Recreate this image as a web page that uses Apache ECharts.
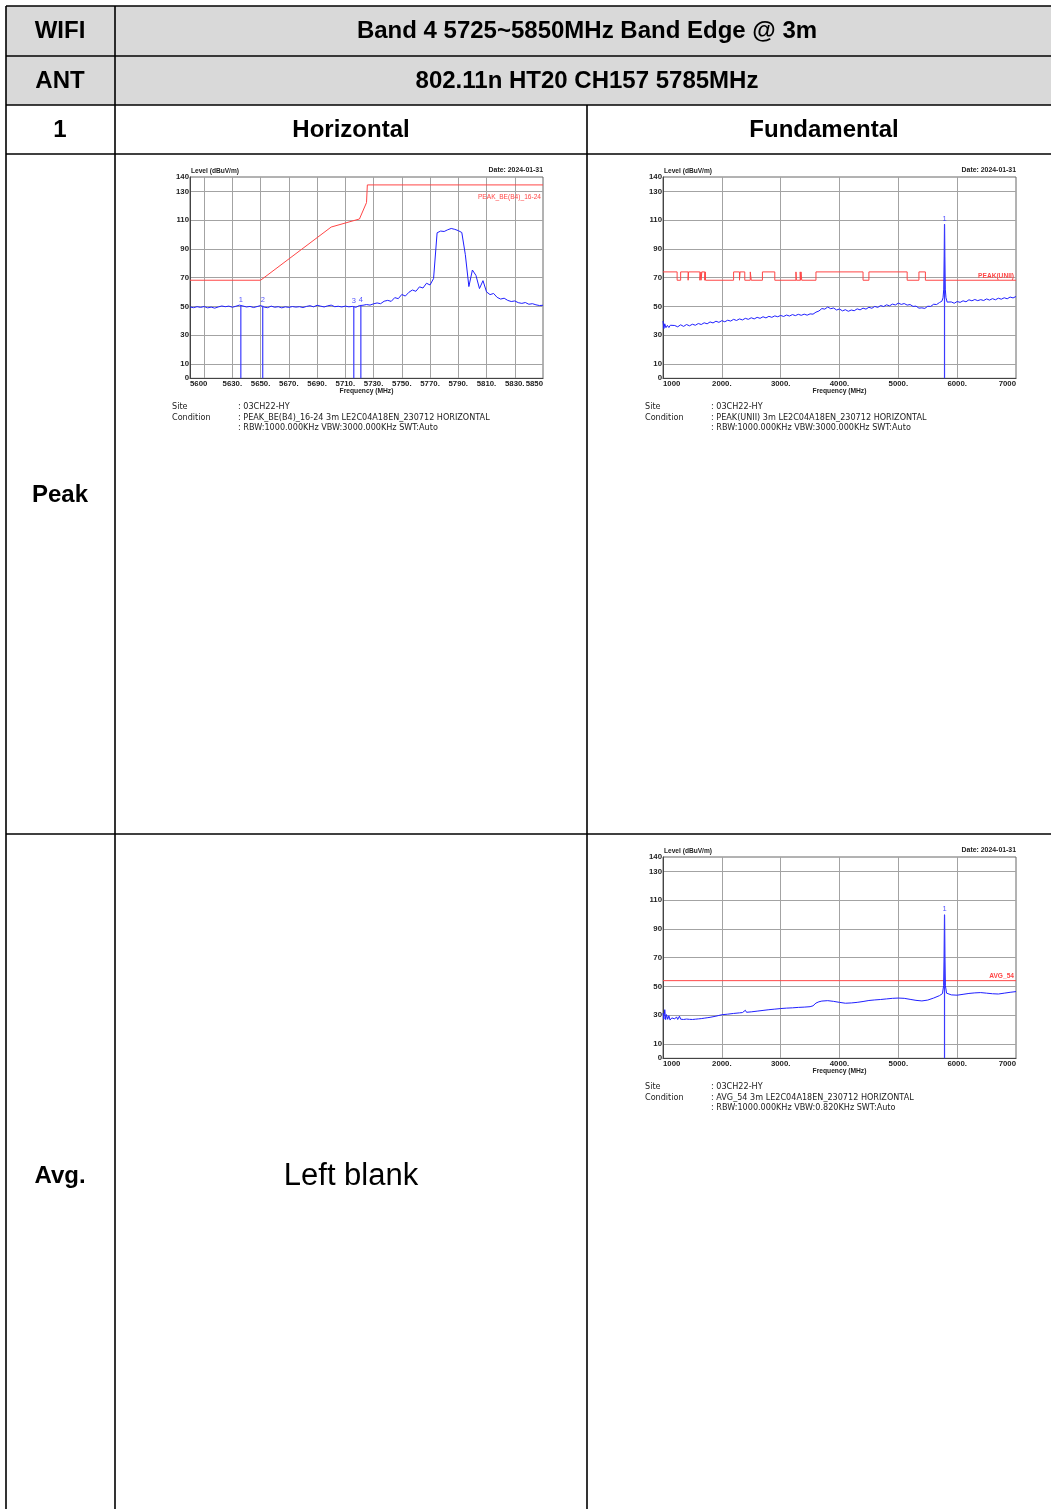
<!DOCTYPE html>
<html><head><meta charset="utf-8">
<script src="https://cdn.jsdelivr.net/npm/echarts@6.0.0/dist/echarts.min.js"></script>
<style>html,body{margin:0;padding:0;background:#fff}#main{width:1051px;height:1509px}</style>
</head><body><div id="main"></div>
<script>
// ---------------- data ----------------
const headerRow1 = ['WIFI', 'Band 4 5725~5850MHz Band Edge @ 3m'];
const headerRow2 = ['ANT', '802.11n HT20 CH157 5785MHz'];
const headerRow3 = ['1', 'Horizontal', 'Fundamental'];
const rowLabels = ['Peak', 'Avg.'];
const blankText = 'Left blank';

const levelTicks = [10, 30, 50, 70, 90, 110, 130];
const levelLabels = [0, 10, 30, 50, 70, 90, 110, 130, 140];

// Band edge (peak) plot
const beFreqStart = 5600, beFreqStep = 2.5;
const beTrace = [
  49.6, 49.1, 49.8, 49.3, 49.9, 49.0, 49.5, 48.8, 49.6, 50.3,
  49.8, 50.2, 49.4, 50.1, 50.9, 50.3, 49.6, 50.0, 49.2, 49.9,
  50.6, 49.5, 49.1, 50.2, 49.4, 49.8, 49.0, 49.7, 49.3, 49.9,
  49.5, 49.8, 49.2, 50.0, 50.5, 49.7, 50.8, 50.2, 49.6, 50.4,
  50.9, 49.8, 50.1, 49.6, 50.2, 49.7, 50.0, 49.4, 50.6, 50.8,
  51.3, 50.9, 51.8, 52.4, 51.9, 53.6, 54.2, 53.5, 56.1, 55.4,
  58.3, 57.2, 59.8, 61.4, 60.5, 63.6, 62.8, 66.1, 64.9, 69.4,
  101.2, 102.4, 102.1, 103.3, 104.2, 103.6, 102.7, 101.4, 86.0, 63.8,
  75.3, 71.6, 62.4, 67.9, 60.1, 58.2, 59.0, 56.3, 55.1, 55.7,
  54.2, 53.4, 53.8, 52.6, 52.1, 52.7, 51.5, 51.9, 51.1, 50.6,
  50.8
];
const beLimit = [[5600, 68.2], [5650, 68.2], [5700, 105.2], [5720, 110.8], [5725, 122.2], [5725.6, 134.5], [5850, 134.5]];
const beMarkers = [[5636, 50.9, '1'], [5651.5, 50.4, '2'], [5716, 50.0, '3'], [5721, 50.7, '4']];
const beTickFreqs = [5610, 5630, 5650, 5670, 5690, 5710, 5730, 5750, 5770, 5790, 5810, 5830];
const beLabelFreqs = [5600, 5630, 5650, 5670, 5690, 5710, 5730, 5750, 5770, 5790, 5810, 5830, 5850];

// Fundamental plots
const fundTickFreqs = [2000, 3000, 4000, 5000, 6000];
const fundLabelFreqs = [1000, 2000, 3000, 4000, 5000, 6000, 7000];
const fundPeakTrace = [
  [1000,39.8],[1015,34.6],[1030,37.9],[1050,35.2],[1075,36.8],[1100,35.3],[1125,36.9],[1150,35.6],[1200,36.7],[1250,35.8],
  [1300,37.2],[1350,36.1],[1400,37.4],[1450,36.5],[1500,37.6],[1550,36.9],[1600,38.1],[1650,37.4],[1700,38.6],[1750,37.9],
  [1800,39.2],[1850,38.5],[1900,39.7],[1950,38.9],[2000,40.1],[2050,39.3],[2100,40.4],[2150,39.8],[2200,41.0],[2250,40.2],
  [2300,41.3],[2350,40.6],[2400,41.7],[2450,41.0],[2500,42.1],[2550,41.3],[2600,42.4],[2650,41.7],[2700,42.8],[2750,42.0],
  [2800,43.1],[2850,42.4],[2900,43.4],[2950,42.8],[3000,43.7],[3050,43.0],[3100,44.0],[3150,43.3],[3200,44.3],[3250,43.6],
  [3300,44.5],[3350,43.8],[3400,44.6],[3450,43.9],[3500,44.8],[3550,44.6],[3600,46.0],[3650,46.8],[3700,48.5],[3750,48.1],
  [3800,49.6],[3850,48.4],[3900,48.9],[3950,47.5],[4000,48.2],[4050,46.9],[4100,47.7],[4150,46.6],[4200,47.5],[4250,47.0],
  [4300,48.3],[4350,47.6],[4400,48.8],[4450,48.1],[4500,49.4],[4550,48.7],[4600,50.0],[4650,49.3],[4700,50.6],[4750,49.9],
  [4800,51.1],[4850,50.4],[4900,51.6],[4950,51.0],[5000,52.3],[5050,51.4],[5100,52.0],[5150,50.9],[5200,51.3],[5250,50.0],
  [5300,50.2],[5350,48.8],[5400,49.0],[5450,48.6],[5500,50.1],[5550,50.0],[5600,51.5],[5650,51.3],[5700,52.7],[5740,53.6],
  [5760,56.0],[5772,62.0],[5780,85.0],[5785,107.0],[5790,85.0],[5798,62.0],[5810,56.0],[5830,53.0],[5850,52.4],[5900,53.1],
  [5950,52.2],[6000,53.4],[6050,52.8],[6100,53.9],[6150,53.2],[6200,54.6],[6250,53.9],[6300,54.8],[6350,54.0],[6400,54.7],
  [6450,54.1],[6500,55.2],[6550,54.4],[6600,55.4],[6650,54.6],[6700,55.7],[6750,55.0],[6800,56.0],[6850,55.3],[6900,56.5],
  [6950,55.9],[7000,56.9]
];
const restrictedBands = [[960,1240],[1300,1427],[1435,1626.5],[1645.5,1646.5],[1660,1710],[1718.8,1722.2],[2200,2300],[2310,2390],
  [2483.5,2500],[2690,2900],[3260,3267],[3332,3339],[3345.8,3358],[3600,4400],[4500,5150],[5350,5460],[7250,7750]];
const limitRestricted = 74, limitOther = 68.2;
const fundPeakMarker = [5785, 107.0, '1'];

const fundAvgTrace = [
  [1000,31.5],[1015,27.2],[1030,33.8],[1045,26.9],[1060,30.4],[1080,27.1],[1100,29.6],[1120,26.6],[1150,28.1],[1180,26.9],
  [1200,27.4],[1230,28.8],[1250,27.0],[1280,29.3],[1300,27.2],[1350,27.0],[1400,27.3],[1450,27.1],[1500,27.0],[1550,27.2],
  [1600,27.4],[1650,27.6],[1700,27.9],[1750,28.2],[1800,28.5],[1850,28.9],[1900,29.3],[1950,29.8],[2000,30.3],[2100,30.7],
  [2200,31.2],[2300,31.6],[2350,31.8],[2400,33.4],[2420,32.0],[2500,32.3],[2600,32.8],[2700,33.3],[2800,33.8],[2900,34.2],
  [3000,34.6],[3100,34.9],[3200,35.1],[3300,35.4],[3400,35.6],[3500,35.9],[3550,36.5],[3600,38.4],[3650,39.3],[3700,39.8],
  [3800,40.1],[3900,39.6],[4000,38.9],[4100,38.3],[4200,38.5],[4300,38.9],[4400,39.5],[4500,40.2],[4600,40.6],[4700,40.9],
  [4800,41.3],[4900,41.7],[5000,41.9],[5100,41.7],[5200,41.0],[5300,40.3],[5400,39.9],[5500,40.5],[5600,41.9],[5700,43.6],
  [5750,45.0],[5770,50.5],[5778,70.0],[5785,99.8],[5792,70.0],[5800,50.5],[5820,45.3],[5850,44.6],[5900,44.1],[6000,43.9],
  [6100,44.5],[6200,45.1],[6300,45.5],[6400,45.7],[6500,45.3],[6600,44.9],[6700,44.7],[6800,45.3],[6900,45.9],[7000,46.4]
];
const avgLimit = 54;
const fundAvgMarker = [5785, 99.8, '1'];

const plotTexts = {
  site: ': 03CH22-HY',
  beCond: ': PEAK_BE(B4)_16-24 3m LE2C04A18EN_230712 HORIZONTAL',
  peakCond: ': PEAK(UNII) 3m LE2C04A18EN_230712 HORIZONTAL',
  avgCond: ': AVG_54 3m LE2C04A18EN_230712 HORIZONTAL',
  rbwPeak: ': RBW:1000.000KHz VBW:3000.000KHz SWT:Auto',
  rbwAvg: ': RBW:1000.000KHz VBW:0.820KHz SWT:Auto',
  date: 'Date: 2024-01-31',
  level: 'Level (dBuV/m)',
  freq: 'Frequency (MHz)'
};

// ---------------- helpers ----------------
const FA = '"Liberation Sans", Arial, sans-serif';
const FV = '"DejaVu Sans", Verdana, sans-serif';
const BLUE = '#1f1fff', MBLUE = '#3b3bff', RED = '#ff4646';

function stepLimit(bands, hi, lo, xmin, xmax) {
  const pts = [];
  let cur = xmin;
  bands.forEach(([a, b]) => {
    if (b <= xmin || a >= xmax) return;
    const s = Math.max(a, xmin), e = Math.min(b, xmax);
    if (s > cur) pts.push([cur, lo], [s, lo]);
    pts.push([s, hi], [e, hi]);
    cur = e;
  });
  if (cur < xmax) pts.push([cur, lo], [xmax, lo]);
  return pts;
}

const G = [];
function gLine(x1, y1, x2, y2, w) {
  G.push({type: 'line', shape: {x1, y1, x2, y2}, style: {stroke: '#000', lineWidth: w || 1.6}, silent: true, z: 1});
}
function gRect(x, y, w, h, fill) {
  G.push({type: 'rect', shape: {x, y, width: w, height: h}, style: {fill}, silent: true, z: 0});
}
function gText(t, x, y, o) {
  o = o || {};
  const al = o.align || 'center';
  G.push({type: 'text', x, y, silent: true, z: 2, style: {
    text: t, fill: o.color || '#000', fontFamily: o.family || FA, fontSize: o.size || 24,
    fontWeight: o.weight || 'bold', align: al, verticalAlign: 'middle', textAlign: al, textVerticalAlign: 'middle'
  }});
}

// table
gRect(6, 6, 1045, 99, '#d9d9d9');
[6, 56, 105, 154, 834].forEach(y => gLine(6, y, 1051, y));
gLine(6, 6, 6, 1509);
gLine(115, 6, 115, 1509);
gLine(587, 105, 587, 1509);

gText(headerRow1[0], 60, 31); gText(headerRow1[1], 587, 31);
gText(headerRow2[0], 60, 81); gText(headerRow2[1], 587, 81);
gText(headerRow3[0], 60, 130); gText(headerRow3[1], 351, 130); gText(headerRow3[2], 824, 130);
gText(rowLabels[0], 60, 495); gText(rowLabels[1], 60, 1176);
gText(blankText, 351, 1176, {weight: 'normal', size: 31});

// plot annotations
function plotInfo(left, right, top, cond, rbw, limitLabel, limitY) {
  const bottom = top + 201.3;
  gText(plotTexts.level, left + 1, top - 6, {align: 'left', size: 6.6, color: '#222'});
  gText(plotTexts.date, right, top - 7.3, {align: 'right', size: 6.9, color: '#222'});
  gText(plotTexts.freq, (left + right) / 2, bottom + 13, {size: 6.7, color: '#222'});
  gText(limitLabel.text, right - 2, limitY, {align: 'right', size: 6.6, color: RED, weight: limitLabel.weight});
  const sx = left - 18, vx = left + 48, fs = 8.1;
  gText('Site', sx, bottom + 28.5, {align: 'left', size: fs, weight: 'normal', family: FV, color: '#222'});
  gText('Condition', sx, bottom + 39.5, {align: 'left', size: fs, weight: 'normal', family: FV, color: '#222'});
  gText(plotTexts.site, vx, bottom + 28.5, {align: 'left', size: fs, weight: 'normal', family: FV, color: '#222'});
  gText(cond, vx, bottom + 39.5, {align: 'left', size: fs, weight: 'normal', family: FV, color: '#222'});
  gText(rbw, vx, bottom + 50, {align: 'left', size: fs, weight: 'normal', family: FV, color: '#222'});
}
plotInfo(190, 543, 177, plotTexts.beCond, plotTexts.rbwPeak, {text: 'PEAK_BE(B4)_16-24', weight: 'normal'}, 197.5);
plotInfo(663, 1016, 177, plotTexts.peakCond, plotTexts.rbwPeak, {text: 'PEAK(UNII)', weight: 'bold'}, 275.7);
plotInfo(663, 1016, 857, plotTexts.avgCond, plotTexts.rbwAvg, {text: 'AVG_54', weight: 'bold'}, 976.3);

// axes
function xAxisCfg(gi, min, max, ticks, labels) {
  return {
    type: 'value', gridIndex: gi, min, max,
    axisLine: {show: true, onZero: false, lineStyle: {color: '#444', width: 1}},
    axisTick: {show: false, customValues: ticks},
    axisLabel: {
      customValues: labels, hideOverlap: false,
      formatter: v => (v === min || v === max) ? String(v) : v + '.',
      fontSize: 7.8, fontWeight: 'bold', color: '#222', fontFamily: FA, margin: 2,
      alignMinLabel: 'left', alignMaxLabel: 'right'
    },
    splitLine: {show: true, lineStyle: {color: '#a3a3a3', width: 1}}
  };
}
function yAxisCfg(gi) {
  return {
    type: 'value', gridIndex: gi, min: 0, max: 140,
    axisLine: {show: true, onZero: false, lineStyle: {color: '#444', width: 1}},
    axisTick: {show: false, customValues: levelTicks},
    axisLabel: {customValues: levelLabels, hideOverlap: false, fontSize: 7.8, fontWeight: 'bold', color: '#222', fontFamily: FA, margin: 1},
    splitLine: {show: true, lineStyle: {color: '#a3a3a3', width: 1}}
  };
}
function gridCfg(left, top) {
  return {left, top, width: 353, height: 201.3, show: true, borderColor: '#666', borderWidth: 1, backgroundColor: '#fff', containLabel: false};
}

function traceSeries(gi, data) {
  return {
    type: 'line', xAxisIndex: gi, yAxisIndex: gi, data, showSymbol: false, symbol: 'none', sampling: 'none',
    lineStyle: {color: BLUE, width: 1}, itemStyle: {color: BLUE}, animation: false, silent: true, z: 3
  };
}
function markerLineSeries(gi, marker) {
  return marker.map(m => ({
    type: 'line', xAxisIndex: gi, yAxisIndex: gi, data: [[m[0], 0], [m[0], m[1]]],
    showSymbol: false, symbol: 'none', lineStyle: {color: MBLUE, width: 1.2}, itemStyle: {color: MBLUE},
    animation: false, silent: true, z: 3
  }));
}
function limitSeries(gi, data) {
  return {type: 'line', xAxisIndex: gi, yAxisIndex: gi, data, showSymbol: false, symbol: 'none',
    lineStyle: {color: RED, width: 1}, itemStyle: {color: RED}, animation: false, silent: true, z: 2};
}
function markerLabels(gi, marker) {
  return {type: 'scatter', xAxisIndex: gi, yAxisIndex: gi, data: marker, symbolSize: 1,
    itemStyle: {color: 'rgba(0,0,0,0)'}, animation: false, silent: true, z: 4,
    label: {show: true, position: 'top', distance: 1, formatter: p => p.value[2], color: BLUE, fontSize: 7.5, fontFamily: FA}};
}

const beData = beTrace.map((v, i) => [beFreqStart + i * beFreqStep, v]);
const peakLimitData = stepLimit(restrictedBands, limitRestricted, limitOther, 1000, 7000);
const avgLimitData = [[1000, avgLimit], [7000, avgLimit]];

const chart = echarts.init(document.getElementById('main'), null, {renderer: 'canvas'});
chart.setOption({
  animation: false,
  backgroundColor: '#fff',
  grid: [gridCfg(190, 177), gridCfg(663, 177), gridCfg(663, 857)],
  xAxis: [
    xAxisCfg(0, 5600, 5850, beTickFreqs, beLabelFreqs),
    xAxisCfg(1, 1000, 7000, fundTickFreqs, fundLabelFreqs),
    xAxisCfg(2, 1000, 7000, fundTickFreqs, fundLabelFreqs)
  ],
  yAxis: [yAxisCfg(0), yAxisCfg(1), yAxisCfg(2)],
  series: [].concat(
    [limitSeries(0, beLimit), traceSeries(0, beData)],
    markerLineSeries(0, beMarkers),
    [markerLabels(0, beMarkers)],
    [limitSeries(1, peakLimitData), traceSeries(1, fundPeakTrace)],
    markerLineSeries(1, [fundPeakMarker]),
    [markerLabels(1, [fundPeakMarker])],
    [limitSeries(2, avgLimitData), traceSeries(2, fundAvgTrace)],
    markerLineSeries(2, [fundAvgMarker]),
    [markerLabels(2, [fundAvgMarker])]
  ),
  graphic: {elements: G}
});
</script></body></html>
